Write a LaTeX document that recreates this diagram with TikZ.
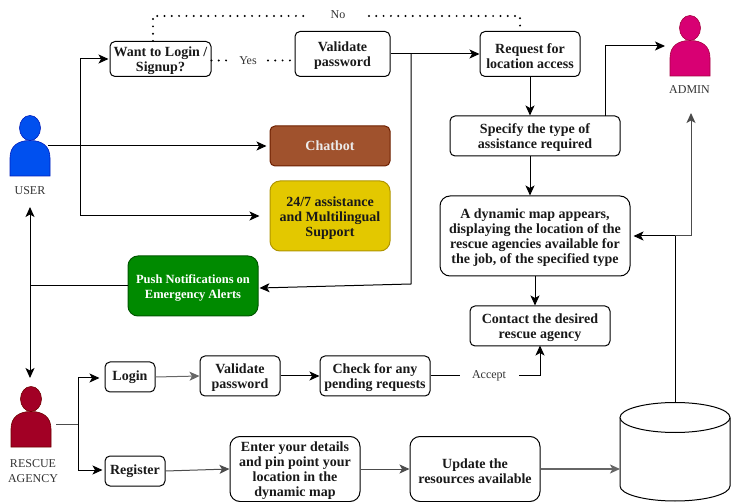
\documentclass[tikz,border=0pt]{standalone}
\usepackage{fontspec}
\setmainfont{Liberation Serif}
\usetikzlibrary{arrows.meta,shapes.geometric}
\definecolor{cUser}{HTML}{0050EF}
\definecolor{cUserD}{HTML}{001DBC}
\definecolor{cAdmin}{HTML}{D80073}
\definecolor{cAdminD}{HTML}{A50040}
\definecolor{cResc}{HTML}{A20025}
\definecolor{cRescD}{HTML}{6F0000}
\definecolor{cChat}{HTML}{A0522D}
\definecolor{cChatD}{HTML}{6D1F00}
\definecolor{cYel}{HTML}{E3C800}
\definecolor{cYelD}{HTML}{B09500}
\definecolor{cGrn}{HTML}{008A00}
\definecolor{cGrnD}{HTML}{005700}
\newcommand{\tp}{\mbox{}\\[-1.5pt]}
\tikzset{
  x=1pt,y=-1pt,
  every node/.style={font=\fontsize{14}{15}\selectfont\bfseries,align=center,inner sep=0pt,text=black!90},
  boxs/.style={draw=black,fill=white,rounded corners=#1,line width=1pt},
  boxs/.default=5pt,
  lbl/.style={font=\fontsize{12}{15}\selectfont,text=black!80},
  conn/.style={draw=black,line width=1pt,-{Stealth[length=10pt,width=9pt,inset=2.5pt]}},
  plain/.style={draw=black,line width=1pt},
  dots/.style={draw=black,line width=2.2pt,line cap=round,dash pattern=on 0pt off 7.3pt},
  person/.style={line width=.6pt},
}
\newcommand{\personfig}[4]{% x, y, fill, stroke
  \fill[#3,draw=#4,person] (#1+20,#2+12) ellipse (10.5 and 12.5);
  \fill[#3,draw=#4,person] (#1,#2+60) -- (#1,#2+42) .. controls (#1,#2+30) and (#1+8,#2+24.5) .. (#1+20,#2+24.5)
    .. controls (#1+32,#2+24.5) and (#1+40,#2+30) .. (#1+40,#2+42) -- (#1+40,#2+60) -- cycle;
}
\begin{document}
\begin{tikzpicture}
\useasboundingbox (0,0) rectangle (731,502);
\personfig{10}{116}{cUser}{cUserD}
\personfig{670}{16}{cAdmin}{cAdminD}
\personfig{11}{387}{cResc}{cRescD}
\node[lbl] (userl) at (30,190.5) {USER};
\node[lbl] (adminl) at (689.5,89.5) {ADMIN};
\node[lbl] (rescl) at (33,471) {RESCUE\\AGENCY};
\coordinate (userc) at (48,146);
\coordinate (adminc) at (665,46);
\coordinate (rescc) at (56,425);
\coordinate (userb) at (30,207);
\coordinate (rescb) at (30,378);
\coordinate (adminb) at (691,113);

\node[boxs,minimum width=101pt,minimum height=35pt] (want) at (160.5,59) {\tp Want to Login /\\Signup?};
\node[boxs,minimum width=95pt,minimum height=45pt] (val) at (342.5,54) {\tp Validate\\password};
\node[boxs,minimum width=100pt,minimum height=45pt] (req) at (530,54) {\tp Request for\\location access};
\node[boxs,minimum width=170pt,minimum height=40pt] (spec) at (535,136) {\tp Specify the type of\\assistance required};
\node[boxs=10pt,minimum width=190pt,minimum height=80pt] (map) at (535,236) {\tp A dynamic map appears,\\displaying the location of the\\rescue agencies available for\\the job, of the specified type};
\node[boxs,minimum width=140pt,minimum height=40pt] (cont) at (540,326) {\tp Contact the desired\\rescue agency};
\node[boxs,fill=cChat,draw=cChatD,minimum width=120pt,minimum height=40pt,text=white!92!black] (chat) at (330,146) {Chatbot};
\node[boxs=10pt,fill=cYel,draw=cYelD,minimum width=120pt,minimum height=70pt] (sup) at (330,216) {\tp 24/7 assistance\\and Multilingual\\Support};
\node[boxs=10pt,fill=cGrn,draw=cGrnD,minimum width=130pt,minimum height=60pt,text=white,font=\fontsize{12.5}{15}\selectfont\bfseries] (push) at (193,286) {\tp Push Notifications on\\Emergency Alerts};
\node[boxs,minimum width=50pt,minimum height=30pt] (login) at (130,377) {Login};
\node[boxs,minimum width=80pt,minimum height=40pt] (val2) at (240,376) {\tp Validate\\password};
\node[boxs,minimum width=110pt,minimum height=40pt] (chk) at (375,376) {\tp Check for any\\pending requests};
\node[boxs,minimum width=60pt,minimum height=30pt] (reg) at (135,471) {Register};
\node[boxs=10pt,minimum width=130pt,minimum height=65pt] (ent) at (295,469) {\tp Enter your details\\and pin point your\\location in the\\dynamic map};
\node[boxs=10pt,minimum width=130pt,minimum height=65pt] (upd) at (475,469) {\tp Update the\\resources available};

% cylinder
\draw[fill=white,line width=1pt] (620,418) -- (620,486) arc[start angle=180,end angle=0,x radius=55,y radius=15] -- (730,418);
\draw[fill=white,line width=1pt] (675,417.5) ellipse (55 and 15);
\coordinate (cylt) at (675,402.5);
\coordinate (cyll) at (620,469);

% labels
\node[lbl] (yes) at (248,60.5) {Yes};
\node[lbl] (no) at (338,15) {No};
\node[lbl] (acc) at (489,376) {Accept};

% junctions
\coordinate (j1) at (80,146);
\coordinate (j2) at (411,54);
\coordinate (j3) at (675,236);
\coordinate (j4) at (78,425);
\coordinate (j5) at (30,286);

% connectors
\draw[conn] (userc) -- ([xshift=-3pt]chat.west);
\draw[conn] (j1) |- ([xshift=-1pt]want.west);
\draw[conn] (j1) |- ([xshift=-10pt]sup.west);
\draw[conn] (val.east |- j2) -- (req.west |- j2);
\draw[conn] (j2) -- (411,284) -- ([xshift=1pt,yshift=-2pt]push.east);
\draw[conn] (req.south) -- (req.south |- spec.north);
\draw[conn] (spec.south -| req.south) -- (map.north -| req.south);
\draw[conn] (605,116) -- (605,46) -- (adminc);
\draw[conn] (map.south) -- (map.south |- cont.north);
\draw[conn] (cylt) -- (j3) -- ([xshift=3pt]map.east |- j3);
\draw[conn,draw=black!70] (j3) -- (691,236) -- (adminb);
\draw[plain,{Stealth[length=10pt,width=9pt,inset=2.5pt]}-{Stealth[length=10pt,width=9pt,inset=2.5pt]}] (userb) -- (rescb);
\draw[plain] (push.west) -- (j5);
\draw[plain,draw=black!70] (rescc) -- (j4);
\draw[conn] (j4) |- ([xshift=-5pt,yshift=-1pt]login.west);
\draw[conn] (j4) |- ([xshift=-2pt,yshift=1pt]reg.west);
\draw[conn,draw=black!60] (login.east) -- (val2.west);
\draw[conn] (val2.east) -- (chk.west);
\draw[plain] (chk.east) -- (460,376);
\draw[conn] (519,376) -- (540,376) -- ([yshift=1pt]cont.south);
\draw[conn,draw=black!70] (reg.east) -- (ent.west);
\draw[conn,draw=black!70] (ent.east) -- (upd.west);
\draw[conn,draw=black!60,line width=1.4pt] (upd.east) -- (cyll);
% dotted
\draw[dots] (want.east |- yes) -- (230,60.5);
\draw[dots] (268,60.5) -- (val.west |- yes);
\draw[dots] (153,41) -- (153,16) -- (306,16);
\draw[dots] (369,16) -- (520,16) -- (520,31);
\end{tikzpicture}
\end{document}
